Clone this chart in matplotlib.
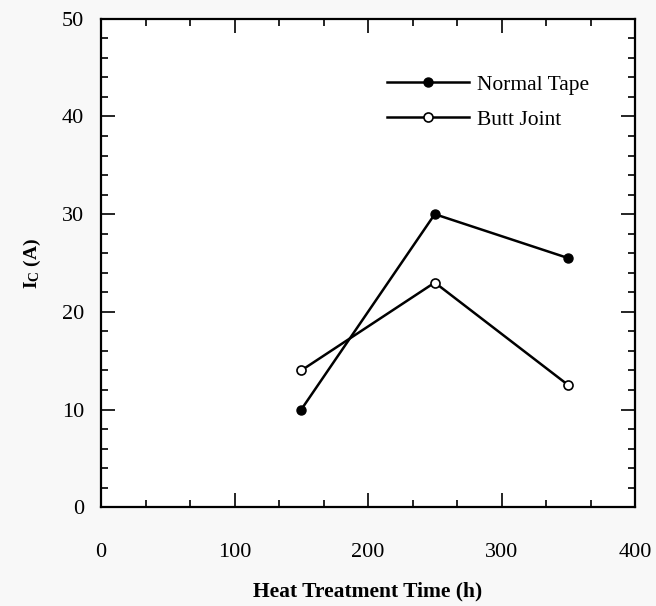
import matplotlib
matplotlib.use("Agg")
import matplotlib.pyplot as plt
from matplotlib.ticker import MultipleLocator

plt.rcParams['font.family'] = ['Liberation Serif', 'DejaVu Serif']
plt.rcParams['mathtext.fontset'] = 'custom'
plt.rcParams['mathtext.rm'] = 'Liberation Serif'
plt.rcParams['mathtext.bf'] = 'Liberation Serif:bold'

# data
hours = [150, 250, 350]
normal_tape = [10, 30, 25.5]
butt_joint = [14, 23, 12.5]
x_ticks = [0, 100, 200, 300, 400]
y_ticks = [0, 10, 20, 30, 40, 50]

fig = plt.figure(figsize=(6.56, 6.06), dpi=100)
ax = fig.add_axes([0.154, 0.163, 0.814, 0.806])

ax.plot(hours, normal_tape, color='black', lw=1.8, marker='o', ms=6.5,
        mfc='black', mec='black', label='Normal Tape')
ax.plot(hours, butt_joint, color='black', lw=1.8, marker='o', ms=6.5,
        mfc='white', mec='black', mew=1.2, label='Butt Joint')

ax.set_xlim(0, 400)
ax.set_ylim(0, 50)
ax.set_xticks(x_ticks)
ax.set_yticks(y_ticks)
ax.xaxis.set_minor_locator(MultipleLocator(100 / 3))
ax.yaxis.set_minor_locator(MultipleLocator(2))
ax.tick_params(which='both', direction='in', top=True, right=True,
               width=1.2, labelsize=16)
ax.tick_params(which='major', length=10)
ax.tick_params(which='minor', length=5)
ax.tick_params(axis='x', pad=26)
ax.tick_params(axis='y', pad=12)
for s in ax.spines.values():
    s.set_linewidth(1.6)

ax.set_xlabel('Heat Treatment Time (h)', fontsize=15.5, fontweight='bold',
              labelpad=14)
ax.set_ylabel(r'$\mathbf{I_C}$ (A)', fontsize=14, fontweight='bold',
              labelpad=14)

leg = ax.legend(loc='upper left', bbox_to_anchor=(0.536, 0.885),
                frameon=False, fontsize=15.5, handlelength=3.8,
                handletextpad=0.35, labelspacing=0.68, borderpad=0,
                borderaxespad=0)

fig.savefig('out.png', dpi=100, facecolor='#f8f8f8')
